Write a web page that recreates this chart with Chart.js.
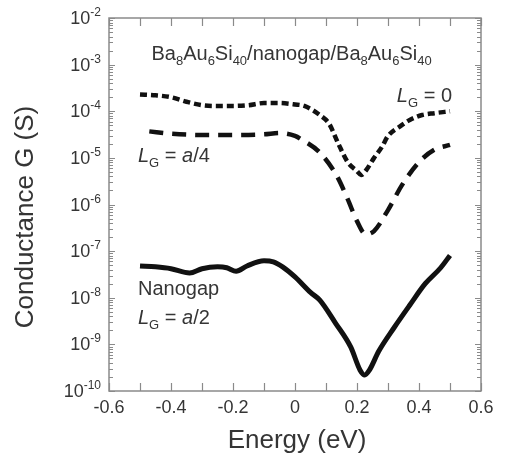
<!DOCTYPE html>
<html>
<head>
<meta charset="utf-8">
<script src="https://cdn.jsdelivr.net/npm/chart.js@4.4.0/dist/chart.umd.min.js"></script>
<style>
  html, body { margin: 0; padding: 0; background: #fff; }
  #wrap { width: 505px; height: 459px; }
</style>
</head>
<body>
<div id="wrap"><canvas id="c" width="505" height="459"></canvas></div>
<script>
// ---- data ----
const xTickValues = [-0.6, -0.4, -0.2, 0, 0.2, 0.4, 0.6];
const xMinorTickValues = [-0.5, -0.3, -0.1, 0.1, 0.3, 0.5];
const xTickLabels = ['-0.6', '-0.4', '-0.2', '0', '0.2', '0.4', '0.6'];
const yDecadeExponents = [-10, -9, -8, -7, -6, -5, -4, -3, -2];

// L_G = 0 (short dashes)
const energyLG0 = [-0.5, -0.45, -0.4, -0.35, -0.3, -0.25, -0.2, -0.15, -0.1, -0.05, 0, 0.03, 0.08, 0.11, 0.14, 0.17, 0.2, 0.213, 0.23, 0.255, 0.28, 0.3, 0.34, 0.37, 0.41, 0.45, 0.5];
const condLG0 = [2.3e-4, 2.2e-4, 2.0e-4, 1.6e-4, 1.35e-4, 1.3e-4, 1.3e-4, 1.35e-4, 1.5e-4, 1.5e-4, 1.4e-4, 1.3e-4, 8.3e-5, 5.4e-5, 2.0e-5, 8.1e-6, 5.2e-6, 4.3e-6, 5.5e-6, 1.0e-5, 1.7e-5, 2.95e-5, 4.8e-5, 6.5e-5, 8.3e-5, 9.1e-5, 1.0e-4];

// L_G = a/4 (long dashes)
const energyLGa4 = [-0.47, -0.4, -0.3, -0.2, -0.1, -0.05, 0.0, 0.02, 0.08, 0.135, 0.17, 0.2, 0.228, 0.255, 0.3, 0.345, 0.4, 0.45, 0.5];
const condLGa4 = [3.7e-5, 3.3e-5, 3.1e-5, 3.1e-5, 3.2e-5, 3.4e-5, 2.95e-5, 2.5e-5, 1.3e-5, 4.1e-6, 1.3e-6, 4.4e-7, 2.3e-7, 2.7e-7, 7.6e-7, 2.6e-6, 8.1e-6, 1.5e-5, 1.9e-5];

// Nanogap L_G = a/2 (solid)
const energyNanogap = [-0.5, -0.45, -0.4, -0.34, -0.3, -0.25, -0.22, -0.19, -0.155, -0.1, -0.07, -0.04, 0.0, 0.05, 0.08, 0.13, 0.18, 0.21, 0.225, 0.24, 0.27, 0.32, 0.37, 0.42, 0.47, 0.5];
const condNanogap = [4.8e-8, 4.6e-8, 4.2e-8, 3.4e-8, 4.2e-8, 4.6e-8, 4.4e-8, 3.7e-8, 4.8e-8, 6.2e-8, 5.9e-8, 4.6e-8, 2.8e-8, 1.3e-8, 8.9e-9, 2.9e-9, 8.7e-10, 2.8e-10, 2.2e-10, 2.8e-10, 7.1e-10, 2.3e-9, 6.9e-9, 2.0e-8, 4.4e-8, 8.1e-8];

const toPoints = (xs, ys) => xs.map((x, i) => ({ x: x, y: ys[i] }));

const FONT = '"Liberation Sans", Arial, Helvetica, sans-serif';
const TEXT = '#353535';
const AXIS = '#8a8a8a';

function drawRuns(ctx, runs, x, y, align) {
  let total = 0;
  runs.forEach(r => {
    ctx.font = (r.italic ? 'italic ' : '') + r.size + 'px ' + FONT;
    r.w = ctx.measureText(r.t).width;
    total += r.w;
  });
  let cx = align === 'right' ? x - total : align === 'center' ? x - total / 2 : x;
  ctx.textAlign = 'left';
  ctx.textBaseline = 'alphabetic';
  runs.forEach(r => {
    ctx.font = (r.italic ? 'italic ' : '') + r.size + 'px ' + FONT;
    ctx.fillText(r.t, cx, y + (r.dy || 0));
    cx += r.w;
  });
}

const framePlugin = {
  id: 'frame',
  afterDraw(chart) {
    const ctx = chart.ctx;
    const { left, right, top, bottom } = chart.chartArea;
    const xs = chart.scales.x, ys = chart.scales.y;
    ctx.save();
    ctx.strokeStyle = AXIS;
    ctx.lineWidth = 1.5;
    ctx.strokeRect(left, top, right - left, bottom - top);
    ctx.lineWidth = 1.2;
    ctx.beginPath();
    xTickValues.concat(xMinorTickValues).forEach(v => {
      const px = Math.round(xs.getPixelForValue(v)) + 0.5;
      ctx.moveTo(px, bottom); ctx.lineTo(px, bottom - 8);
      ctx.moveTo(px, top); ctx.lineTo(px, top + 8);
    });
    yDecadeExponents.forEach(e => {
      const py = Math.round(ys.getPixelForValue(Math.pow(10, e))) + 0.5;
      ctx.moveTo(left, py); ctx.lineTo(left + 6, py);
      ctx.moveTo(right, py); ctx.lineTo(right - 6, py);
      if (e < -2) {
        for (let m = 2; m <= 9; m++) {
          const pm = Math.round(ys.getPixelForValue(m * Math.pow(10, e))) + 0.5;
          ctx.moveTo(left, pm); ctx.lineTo(left + 4, pm);
          ctx.moveTo(right, pm); ctx.lineTo(right - 4, pm);
        }
      }
    });
    ctx.stroke();

    ctx.fillStyle = TEXT;
    ctx.font = '18px ' + FONT;
    ctx.textAlign = 'center';
    ctx.textBaseline = 'middle';
    xTickValues.forEach((v, i) => {
      ctx.fillText(xTickLabels[i], xs.getPixelForValue(v), 408);
    });
    yDecadeExponents.forEach(e => {
      const py = ys.getPixelForValue(Math.pow(10, e));
      drawRuns(ctx, [
        { t: '10', size: 18, dy: 6 },
        { t: String(e), size: 12, dy: -2 }
      ], 101, py, 'right');
    });
    ctx.font = '26px ' + FONT;
    ctx.textAlign = 'center';
    ctx.textBaseline = 'middle';
    ctx.fillText('Energy (eV)', (left + right) / 2 + 2, 441);
    ctx.save();
    ctx.translate(26, 217);
    ctx.rotate(-Math.PI / 2);
    ctx.fillText('Conductance G (S)', 0, 0);
    ctx.restore();

    const S = 20, s = 13;
    drawRuns(ctx, [
      { t: 'Ba', size: S }, { t: '8', size: s, dy: 5 },
      { t: 'Au', size: S }, { t: '6', size: s, dy: 5 },
      { t: 'Si', size: S }, { t: '40', size: s, dy: 5 },
      { t: '/nanogap/Ba', size: S }, { t: '8', size: s, dy: 5 },
      { t: 'Au', size: S }, { t: '6', size: s, dy: 5 },
      { t: 'Si', size: S }, { t: '40', size: s, dy: 5 }
    ], xs.getPixelForValue(-0.463), 60, 'left');
    drawRuns(ctx, [
      { t: 'L', size: S, italic: true }, { t: 'G', size: s, dy: 5 },
      { t: ' = 0', size: S }
    ], xs.getPixelForValue(0.5) + 2, 102, 'right');
    drawRuns(ctx, [
      { t: 'L', size: S, italic: true }, { t: 'G', size: s, dy: 5 },
      { t: ' = ', size: S }, { t: 'a', size: S, italic: true }, { t: '/4', size: S }
    ], xs.getPixelForValue(-0.5) - 2, 162, 'left');
    drawRuns(ctx, [{ t: 'Nanogap', size: S }], xs.getPixelForValue(-0.5) - 2, 295, 'left');
    drawRuns(ctx, [
      { t: 'L', size: S, italic: true }, { t: 'G', size: s, dy: 5 },
      { t: ' = ', size: S }, { t: 'a', size: S, italic: true }, { t: '/2', size: S }
    ], xs.getPixelForValue(-0.5) - 2, 324, 'left');
    ctx.restore();
  }
};

const lineCommon = {
  pointRadius: 0,
  borderColor: '#111',
  fill: false,
  cubicInterpolationMode: 'monotone',
  borderCapStyle: 'butt',
  borderJoinStyle: 'round'
};

new Chart(document.getElementById('c'), {
  type: 'line',
  data: {
    datasets: [
      Object.assign({ label: 'L_G = 0', data: toPoints(energyLG0, condLG0), borderWidth: 4.5, borderDash: [7, 4] }, lineCommon),
      Object.assign({ label: 'L_G = a/4', data: toPoints(energyLGa4, condLGa4), borderWidth: 4.5, borderDash: [14, 9] }, lineCommon),
      Object.assign({ label: 'Nanogap L_G = a/2', data: toPoints(energyNanogap, condNanogap), borderWidth: 5 }, lineCommon)
    ]
  },
  options: {
    responsive: false,
    animation: false,
    devicePixelRatio: 1,
    layout: { padding: { left: 109, top: 18, right: 24, bottom: 68 } },
    plugins: { legend: { display: false }, tooltip: { enabled: false } },
    scales: {
      x: { type: 'linear', min: -0.6, max: 0.6, display: false },
      y: { type: 'logarithmic', min: 1e-10, max: 1e-2, display: false }
    }
  },
  plugins: [framePlugin]
});
</script>
</body>
</html>
